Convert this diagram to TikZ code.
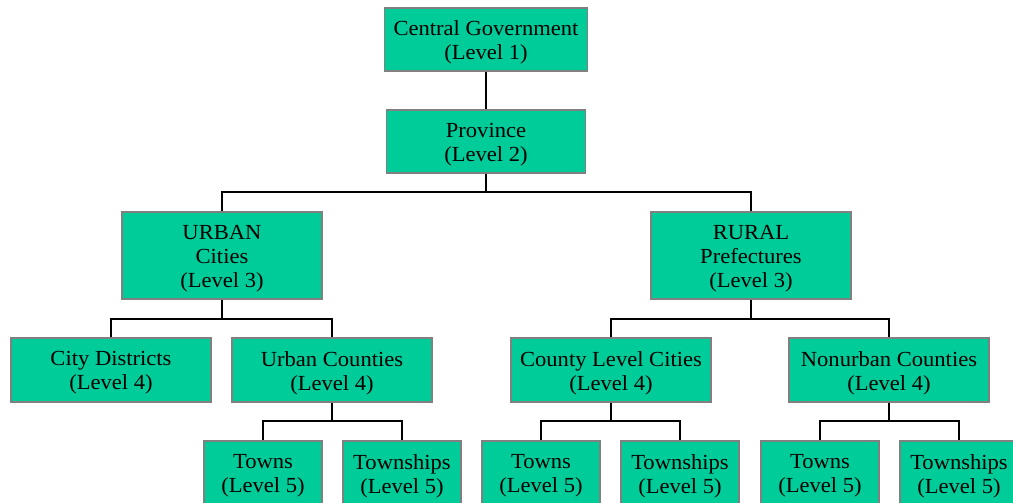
\documentclass[tikz,border=0pt]{standalone}
\usepackage{fontspec}
\setmainfont[FakeStretch=1.05]{Liberation Serif}
\definecolor{boxfill}{HTML}{00CC99}
\definecolor{boxline}{HTML}{808080}
\begin{document}
\begin{tikzpicture}[x=1pt,y=-1pt,
  box/.style={draw=boxline,fill=boxfill,line width=1.5pt,inner sep=0pt,minimum height=63pt,
    label={[font=\fontsize{21.5}{24}\selectfont,align=center,inner sep=0pt,yshift=-3pt]center:#1}},
  w4/.style={minimum width=200pt},
  w5/.style={minimum width=118pt},
  conn/.style={draw=black,line width=1.6pt}]
\useasboundingbox (0,0) rectangle (1013,503);
\fill[white] (0,0) rectangle (1013,503);
\node[box={Central Government\\(Level 1)},minimum width=203pt] (cg) at (486,39.5) {};
\node[box={Province\\(Level 2)},minimum width=199pt] (prov) at (486,141.5) {};
\node[box={URBAN\\Cities\\(Level 3)},w4,minimum height=87pt] (urban) at (222,255.5) {};
\node[box={RURAL\\Prefectures\\(Level 3)},w4,minimum height=87pt] (rural) at (751,255.5) {};
\node[box={City Districts\\(Level 4)},w4,minimum height=64pt] (cd) at (111,370) {};
\node[box={Urban Counties\\(Level 4)},w4,minimum height=64pt] (uc) at (332,370) {};
\node[box={County Level Cities\\(Level 4)},w4,minimum height=64pt] (clc) at (611,370) {};
\node[box={Nonurban Counties\\(Level 4)},w4,minimum height=64pt] (nuc) at (889,370) {};
\node[box={Towns\\(Level 5)},w5,minimum height=64pt] (t1) at (263,473) {};
\node[box={Townships\\(Level 5)},w5,minimum height=64pt] (ts1) at (402,473) {};
\node[box={Towns\\(Level 5)},w5,minimum height=64pt] (t2) at (541,473) {};
\node[box={Townships\\(Level 5)},w5,minimum height=64pt] (ts2) at (680,473) {};
\node[box={Towns\\(Level 5)},w5,minimum height=64pt] (t3) at (820,473) {};
\node[box={Townships\\(Level 5)},w5,minimum height=64pt] (ts3) at (959,473) {};
\coordinate (j1) at (486,192);
\coordinate (j2) at (222,319);
\coordinate (j3) at (751,319);
\coordinate (j4) at (332,421);
\coordinate (j5) at (611,421);
\coordinate (j6) at (889,421);
\draw[conn] (cg.south) -- (prov.north);
\draw[conn] (prov.south) -- (j1);
\draw[conn] (urban.north) |- (j1) -| (rural.north);
\draw[conn] (urban.south) -- (j2);
\draw[conn] (cd.north) |- (j2) -| (uc.north);
\draw[conn] (rural.south) -- (j3);
\draw[conn] (clc.north) |- (j3) -| (nuc.north);
\draw[conn] (uc.south) -- (j4);
\draw[conn] (t1.north) |- (j4) -| (ts1.north);
\draw[conn] (clc.south) -- (j5);
\draw[conn] (t2.north) |- (j5) -| (ts2.north);
\draw[conn] (nuc.south) -- (j6);
\draw[conn] (t3.north) |- (j6) -| (ts3.north);
\end{tikzpicture}
\end{document}
